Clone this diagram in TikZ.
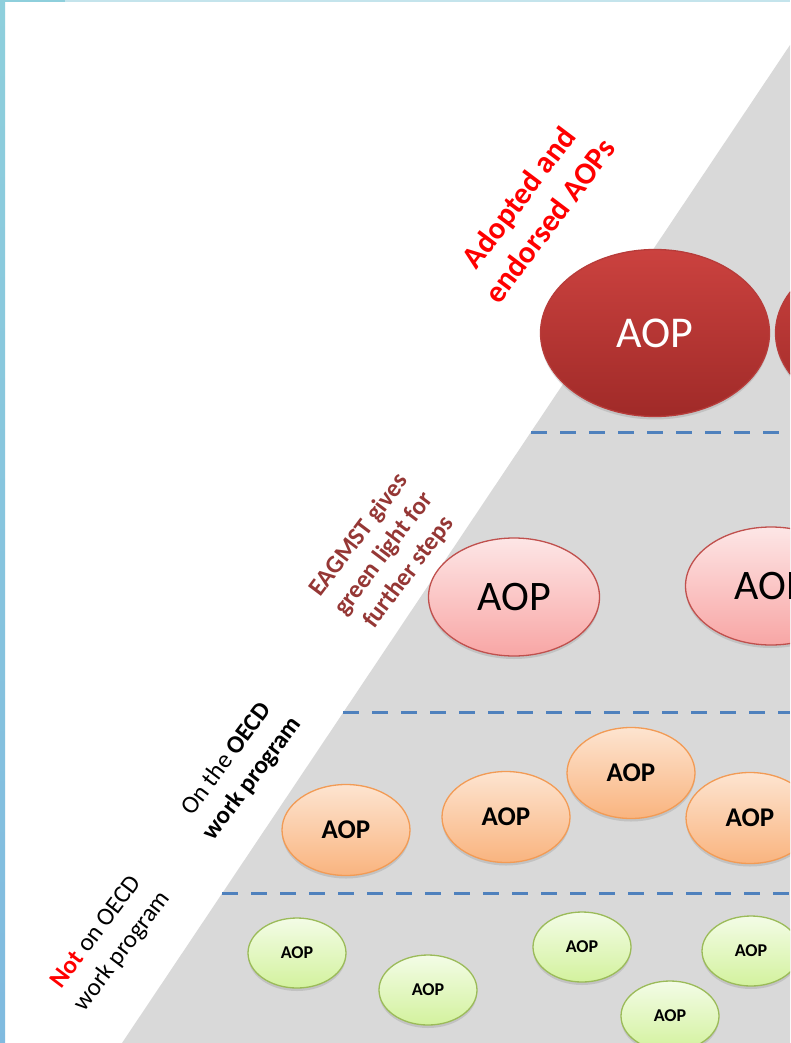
\documentclass[tikz,border=0pt]{standalone}
\usepackage{fontspec}
\setmainfont{Carlito}
\usetikzlibrary{shapes.geometric, shadows}

\definecolor{framedark}{HTML}{8ECFDC}
\definecolor{framelight}{HTML}{C4E4EC}
\definecolor{pyrgray}{HTML}{D9D9D9}
\definecolor{tierblue}{HTML}{4F81BD}
\definecolor{redtop}{HTML}{CB423F}
\definecolor{redbot}{HTML}{A02A28}
\definecolor{rededge}{HTML}{B73C3A}
\definecolor{pinktop}{HTML}{FDE6E6}
\definecolor{pinkbot}{HTML}{F8A6A5}
\definecolor{pinkedge}{HTML}{C0504D}
\definecolor{orangetop}{HTML}{FDE4D0}
\definecolor{orangebot}{HTML}{F9B47F}
\definecolor{orangeedge}{HTML}{F29B55}
\definecolor{greentop}{HTML}{F3FCE6}
\definecolor{greenbot}{HTML}{D3F29E}
\definecolor{greenedge}{HTML}{9BBB59}
\definecolor{lblred}{HTML}{FF0000}
\definecolor{lbldark}{HTML}{953735}

\begin{document}
\begin{tikzpicture}[x=1pt, y=-1pt,
    aop/.style={ellipse, inner sep=0pt, line width=1.3pt,
      drop shadow={shadow xshift=0pt, shadow yshift=-3pt, opacity=0.25}},
    redaop/.style={aop, draw=rededge, top color=redtop, bottom color=redbot,
      minimum width=229, minimum height=167, text=white, font=\fontsize{44}{44}\selectfont},
    pinkaop/.style={aop, draw=pinkedge, top color=pinktop, bottom color=pinkbot,
      minimum width=171, minimum height=118, font=\fontsize{42}{42}\selectfont},
    orangeaop/.style={aop, draw=orangeedge, top color=orangetop, bottom color=orangebot,
      minimum width=128, minimum height=91, font=\bfseries\fontsize{27}{27}\selectfont},
    greenaop/.style={aop, draw=greenedge, top color=greentop, bottom color=greenbot,
      minimum width=98, minimum height=70, font=\bfseries\fontsize{18}{18}\selectfont},
    lbl/.style={rotate=53, align=center, inner sep=0pt},
    tier/.style={draw=tierblue, line width=3pt, dash pattern=on 16pt off 13pt}]
  \useasboundingbox (0,0) rectangle (790,1043);
  \clip (0,0) rectangle (790,1043);
  \fill[white] (0,0) rectangle (790,1043);
  \fill[top color=framedark, bottom color=framedark!90!blue] (0,0) rectangle (5,1043);
  \fill[framedark] (0,0) rectangle (65,2.5);
  \fill[framelight] (65,0) rectangle (790,2.5);

  \coordinate (base) at (122,1043);
  \coordinate (apex) at (790,45);
  \coordinate (corner) at (790,1043);
  \fill[pyrgray] (base) -- (apex) -- (corner) -- cycle;

  \coordinate (tierA) at (531,432);
  \coordinate (tierB) at (343,712);
  \coordinate (tierC) at (222,893);
  \draw[tier] (tierA) -- (790,432);
  \draw[tier] (tierB) -- (790,712);
  \draw[tier] (tierC) -- (790,893);

  \node[redaop] (adoptA) at (655,333) {AOP};
  \node[redaop] (adoptB) at (890,333) {AOP};

  \node[pinkaop] (lightA) at (514,597) {AOP};
  \node[pinkaop] (lightB) at (771,586) {AOP};

  \node[orangeaop] (workA) at (346,830) {AOP};
  \node[orangeaop] (workB) at (506,817) {AOP};
  \node[orangeaop] (workC) at (631,773) {AOP};
  \node[orangeaop] (workD) at (750,818) {AOP};

  \node[greenaop] (draftA) at (297,953) {AOP};
  \node[greenaop] (draftB) at (428,990) {AOP};
  \node[greenaop] (draftC) at (582,947) {AOP};
  \node[greenaop] (draftD) at (751,951) {AOP};
  \node[greenaop] (draftE) at (670,1016) {AOP};

  \node[lbl, text=lblred, font=\bfseries\fontsize{31}{39}\selectfont] (adoptLbl) at (534,209)
    {Adopted and\\endorsed AOPs};
  \node[lbl, text=lbldark, font=\bfseries\fontsize{25}{31}\selectfont] (lightLbl) at (384,554)
    {EAGMST gives\\green light for\\further steps};
  \node[lbl, font=\fontsize{25}{32}\selectfont] (workLbl) at (240,769)
    {On the \textbf{OECD}\\\textbf{work program}};
  \node[lbl, font=\fontsize{25}{32}\selectfont] (draftLbl) at (110,942)
    {\textcolor{lblred}{\textbf{Not}} on OECD\\work program};
\end{tikzpicture}
\end{document}
